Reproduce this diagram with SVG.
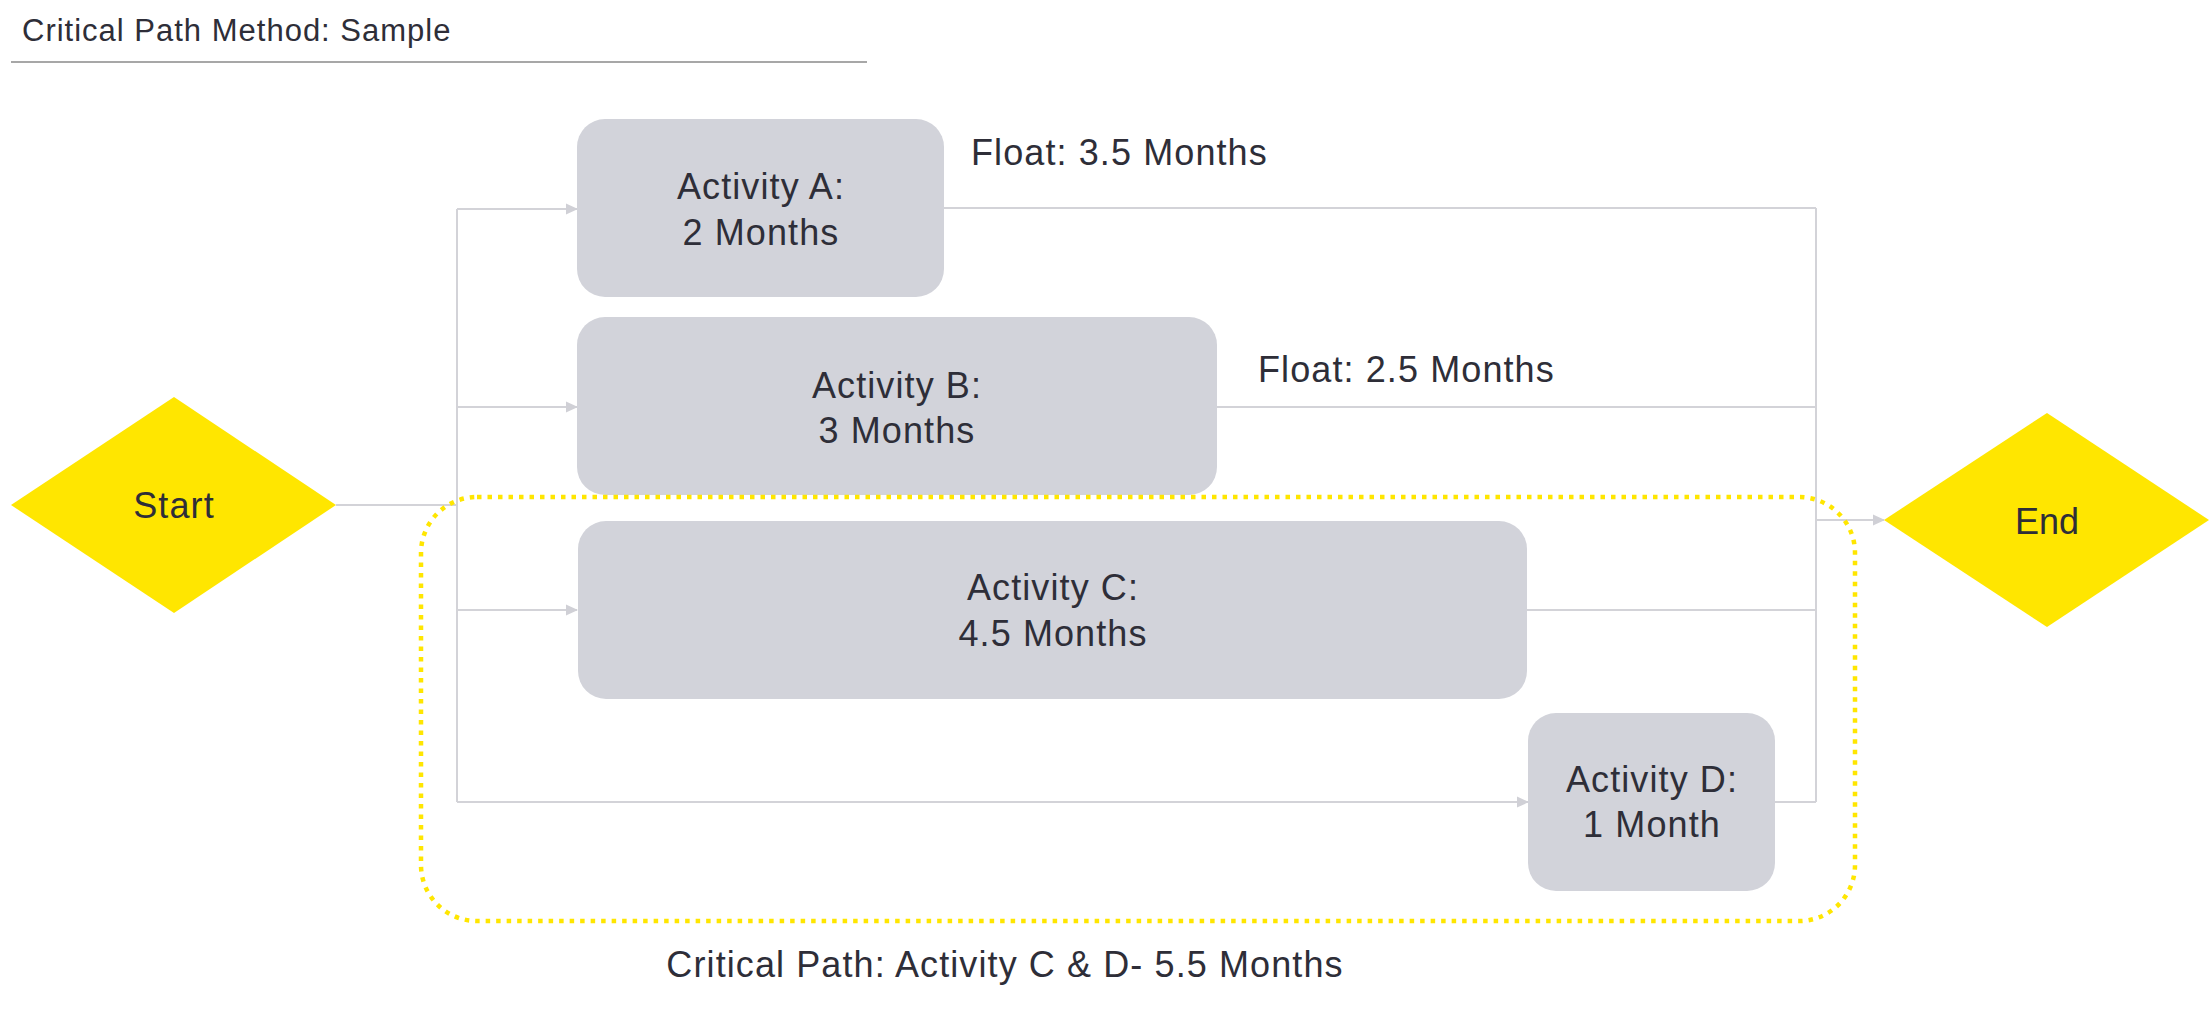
<svg xmlns="http://www.w3.org/2000/svg" width="2209" height="1010" viewBox="0 0 2209 1010">
<defs>
<style>
.t{font-family:"Liberation Sans",Arial,sans-serif;font-size:36px;fill:#2e2e38;letter-spacing:1.1px}
.m{text-anchor:middle}
.box{fill:#d2d3da}
.dia{fill:#ffe600}
.c{fill:none;stroke:#d3d3d8;stroke-width:2}
</style>
<marker id="ah" viewBox="0 0 12 12" refX="11" refY="6" markerWidth="13" markerHeight="12" markerUnits="userSpaceOnUse" orient="auto">
<path d="M0,0.5 L12,6 L0,11.5 Z" fill="#d0d0d6"/>
</marker>
</defs>
<rect width="2209" height="1010" fill="#ffffff"/>
<g id="title">
<text class="t" x="22" y="41" style="font-size:31px;letter-spacing:1px">Critical Path Method: Sample</text>
<line x1="11" y1="62" x2="867" y2="62" stroke="#8a8a8a" stroke-width="1.5"/>
</g>
<g id="connectors">
<polyline class="c" points="336,505 457,505"/>
<polyline class="c" points="457,209 457,802"/>
<polyline class="c" points="457,209 577,209" marker-end="url(#ah)"/>
<polyline class="c" points="457,407 577,407" marker-end="url(#ah)"/>
<polyline class="c" points="457,610 577,610" marker-end="url(#ah)"/>
<polyline class="c" points="457,802 1528,802" marker-end="url(#ah)"/>
<polyline class="c" points="944,208 1816,208"/>
<polyline class="c" points="1217,407 1816,407"/>
<polyline class="c" points="1527,610 1816,610"/>
<polyline class="c" points="1775,802 1816,802"/>
<polyline class="c" points="1816,208 1816,802"/>
<polyline class="c" points="1816,520 1884,520" marker-end="url(#ah)"/>
</g>
<g id="start">
<polygon class="dia" points="11,505 174,397 336,505 174,613"/>
<text class="t m" x="174" y="518">Start</text>
</g>
<g id="end">
<polygon class="dia" points="1884,520 2047,413 2209,520 2047,627"/>
<text class="t m" x="2047" y="534" style="letter-spacing:0">End</text>
</g>
<g id="activity-a">
<rect class="box" x="577" y="119" width="367" height="178" rx="28"/>
<text class="t m" x="761" y="199">Activity A:</text>
<text class="t m" x="761" y="245">2 Months</text>
</g>
<g id="activity-b">
<rect class="box" x="577" y="317" width="640" height="178" rx="28"/>
<text class="t m" x="897" y="398">Activity B:</text>
<text class="t m" x="897" y="443">3 Months</text>
</g>
<g id="activity-c">
<rect class="box" x="578" y="521" width="949" height="178" rx="28"/>
<text class="t m" x="1053" y="600">Activity C:</text>
<text class="t m" x="1053" y="646">4.5 Months</text>
</g>
<g id="activity-d">
<rect class="box" x="1528" y="713" width="247" height="178" rx="28"/>
<text class="t m" x="1652" y="792">Activity D:</text>
<text class="t m" x="1652" y="837">1 Month</text>
</g>
<g id="float-a">
<text class="t" x="971" y="165">Float: 3.5 Months</text>
</g>
<g id="float-b">
<text class="t" x="1258" y="382">Float: 2.5 Months</text>
</g>
<g id="critical-path">
<rect x="421" y="497" width="1434" height="424" rx="56" fill="none" stroke="#ffe600" stroke-width="4.5" stroke-dasharray="4.5 6"/>
<text class="t m" x="1005" y="977">Critical Path: Activity C &amp; D- 5.5 Months</text>
</g>
</svg>
